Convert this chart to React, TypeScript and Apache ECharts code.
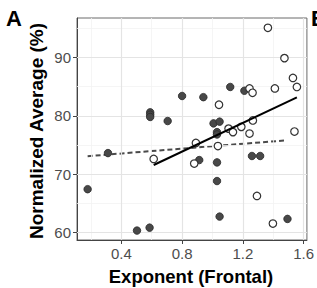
import React, { useEffect, useRef } from "react";
import * as echarts from "echarts";

const filledPoints: [number, number][] = [
  [0.178, 67.4], [0.312, 73.6], [0.503, 60.3], [0.586, 60.8],
  [0.59, 80.6], [0.59, 80.2], [0.59, 79.8], [0.705, 79.1],
  [0.8, 83.4], [0.94, 83.2], [0.913, 72.4], [1.007, 78.7],
  [1.047, 79.0], [1.03, 77.2], [1.03, 76.8], [1.03, 72.0],
  [1.03, 68.8], [1.047, 62.7], [1.117, 84.95], [1.21, 84.3],
  [1.26, 73.1], [1.314, 73.1], [1.494, 62.3],
];

const openPoints: [number, number][] = [
  [0.613, 72.6], [0.88, 71.8], [0.891, 75.35], [1.036, 74.8],
  [1.043, 81.9], [1.106, 77.8], [1.135, 77.2], [1.19, 78.1],
  [1.244, 76.95], [1.244, 84.7], [1.264, 83.95], [1.266, 79.2],
  [1.293, 66.25], [1.365, 95.1], [1.398, 61.5], [1.411, 84.7],
  [1.474, 89.9], [1.53, 86.5], [1.54, 77.3], [1.556, 84.95],
];

const openFit: [number, number][] = [[0.613, 71.55], [1.556, 83.15]];
const filledFit: [number, number][] = [[0.178, 73.07], [1.49, 75.8]];

const xMajor = [0.4, 0.8, 1.2, 1.6];
const xMinor = [0.2, 0.6, 1.0, 1.4];
const yMajor = [60, 70, 80, 90];
const yMinor = [65, 75, 85, 95];

const xRange = [0.108, 1.622];
const yRange = [58.68, 96.79];

const FONT = "Liberation Sans, Arial, sans-serif";

export default function App() {
  const ref = useRef<HTMLDivElement>(null);
  useEffect(() => {
    if (!ref.current) return;
    const chart = echarts.init(ref.current, null, { renderer: "svg" });
    const gridLines = [
      ...xMinor.map((v) => ({ xAxis: v, lineStyle: { color: "#f2f2f2", width: 0.8, type: "solid" } })),
      ...yMinor.map((v) => ({ yAxis: v, lineStyle: { color: "#f2f2f2", width: 0.8, type: "solid" } })),
      ...xMajor.map((v) => ({ xAxis: v, lineStyle: { color: "#e4e4e4", width: 1.2, type: "solid" } })),
      ...yMajor.map((v) => ({ yAxis: v, lineStyle: { color: "#e4e4e4", width: 1.2, type: "solid" } })),
    ];
    chart.setOption({
      animation: false,
      backgroundColor: "#ffffff",
      textStyle: { fontFamily: FONT },
      grid: {
        left: 77, top: 18, width: 230, height: 222,
        show: true, borderColor: "#6a6a6a", borderWidth: 1, backgroundColor: "#ffffff",
      },
      xAxis: {
        type: "value", min: xRange[0], max: xRange[1],
        splitLine: { show: false },
        axisLine: { show: true, onZero: false, lineStyle: { color: "#444", width: 1 } },
        axisTick: { show: true, customValues: xMajor, length: 4, lineStyle: { color: "#444" } },
        axisLabel: {
          customValues: xMajor, color: "#4d4d4d", fontSize: 15, fontFamily: FONT, margin: 6,
          formatter: (v: number) => v.toFixed(1),
        },
      },
      yAxis: {
        type: "value", min: yRange[0], max: yRange[1],
        splitLine: { show: false },
        axisLine: { show: true, onZero: false, lineStyle: { color: "#444", width: 1 } },
        axisTick: { show: true, customValues: yMajor, length: 4, lineStyle: { color: "#444" } },
        axisLabel: { customValues: yMajor, color: "#4d4d4d", fontSize: 15, fontFamily: FONT, margin: 6 },
      },
      graphic: [
        { type: "text", left: 6, top: 7, style: { text: "A", font: `bold 22px ${FONT}`, fill: "#000" } },
        { type: "text", left: 311, top: 7, style: { text: "B", font: `bold 22px ${FONT}`, fill: "#000" } },
        {
          type: "text", x: 191, y: 276,
          style: { text: "Exponent (Frontal)", font: `bold 18.5px ${FONT}`, fill: "#000", align: "center", verticalAlign: "middle" },
        },
        {
          type: "text", x: 36, y: 131, rotation: Math.PI / 2,
          style: { text: "Normalized Average (%)", font: `bold 19px ${FONT}`, fill: "#000", align: "center", verticalAlign: "middle" },
        },
      ],
      series: [
        {
          type: "line", data: [], z: 1, silent: true,
          markLine: { silent: true, symbol: ["none", "none"], label: { show: false }, data: gridLines },
        },
        {
          type: "line", data: filledFit, z: 4, symbol: "none",
          lineStyle: { color: "#4a4a4a", width: 2, type: [5, 3] },
        },
        {
          type: "scatter", data: filledPoints, z: 5, symbol: "circle", symbolSize: 7.5,
          itemStyle: { color: "#484848", borderColor: "#2a2a2a", borderWidth: 0.8, opacity: 1 },
        },
        {
          type: "scatter", data: openPoints, z: 5, symbol: "circle", symbolSize: 7.5,
          itemStyle: { color: "#ffffff", borderColor: "#333", borderWidth: 1.2, opacity: 1 },
        },
        {
          type: "line", data: openFit, z: 6, symbol: "none",
          lineStyle: { color: "#000", width: 2 },
        },
      ],
    });
    return () => chart.dispose();
  }, []);
  return (
    <div
      ref={ref}
      style={{ position: "fixed", left: 0, top: 0, width: 317, height: 288 }}
    />
  );
}
